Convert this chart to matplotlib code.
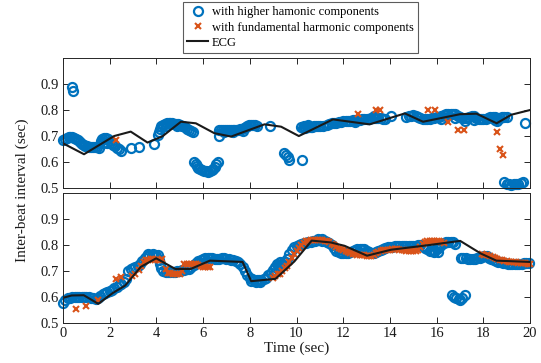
import matplotlib
matplotlib.use("Agg")
import matplotlib.pyplot as plt
from matplotlib.lines import Line2D

plt.rcParams['font.family'] = ['Liberation Serif', 'DejaVu Serif']

# ---------------- top panel ----------------
top_ecg_t = [0.00, 0.90, 2.19, 2.90, 3.62, 4.26, 5.05, 5.69, 6.48, 7.20, 8.63, 9.34, 10.10,
             11.56, 13.13, 14.64, 15.42, 17.00, 17.71, 18.57, 19.20, 20.00]
top_ecg_v = [0.673, 0.631, 0.701, 0.718, 0.676, 0.700, 0.756, 0.750, 0.712, 0.699, 0.746, 0.737, 0.701,
             0.765, 0.746, 0.788, 0.756, 0.785, 0.787, 0.750, 0.783, 0.801]

top_hi_t = [0.00, 0.08, 0.16, 0.24, 0.32, 0.40, 0.48, 0.56, 0.64, 0.72, 0.80, 0.88, 0.96, 1.04, 1.12,
            1.20, 1.28, 1.36, 1.44, 1.55, 1.62, 1.68, 1.70, 1.76, 1.84, 1.90, 1.92, 2.00, 2.08, 2.16,
            2.24, 2.32, 2.40, 2.47, 0.40, 0.43, 2.90, 3.26, 3.90,
            4.05, 4.10, 4.14, 4.20, 4.28, 4.36, 4.40, 4.44, 4.52, 4.60, 4.68, 4.76, 4.84, 4.90, 4.92,
            5.00, 5.08, 5.16, 5.24, 5.32, 5.40, 5.48, 5.55,
            5.62, 5.68, 5.74, 5.80, 5.88, 5.96, 6.04, 6.12, 6.20, 6.28, 6.36, 6.44, 6.50, 6.56, 6.62,
            6.67, 6.70, 6.78, 6.86, 6.90, 6.94, 7.02, 7.10, 7.18, 7.26, 7.30, 7.34, 7.42, 7.50, 7.58,
            7.66, 7.70, 7.74, 7.82, 7.90, 7.98, 8.06, 8.14, 8.22, 8.30, 8.87,
            9.47, 9.55, 9.62, 9.70, 10.25,
            10.20, 10.28, 10.30, 10.36, 10.44, 10.50, 10.52, 10.60, 10.68, 10.76, 10.84, 10.92, 11.00,
            11.13, 11.30, 11.40, 11.50, 11.60, 11.70, 11.80, 11.90, 12.00, 12.10, 12.20, 12.30, 12.40,
            12.50, 12.50, 12.60, 12.70, 12.80, 12.90, 13.00, 13.10, 13.20, 13.30, 13.30, 13.40, 13.50,
            13.60, 13.70, 13.80, 14.06,
            14.70, 14.80, 14.90, 15.00, 15.10, 15.20, 15.30, 15.40, 15.50, 15.60, 15.70, 15.80, 15.90,
            16.00, 16.10, 16.20, 16.20, 16.30, 16.40, 16.50, 16.60, 16.70, 16.80, 16.80, 16.90, 17.00,
            17.10, 17.20, 17.20, 17.30, 17.40, 17.50, 17.60, 17.60, 17.70, 17.80, 17.90, 18.00, 18.10,
            18.20, 18.30, 18.40, 18.50, 18.50, 18.60, 18.60, 18.70, 18.80, 18.90, 19.00, 19.80,
            18.90, 19.00, 19.10, 19.20, 19.30, 19.40, 19.50, 19.60, 19.70]
top_hi_v = [0.686, 0.690, 0.693, 0.696, 0.698, 0.699, 0.695, 0.690, 0.684, 0.677, 0.671, 0.667, 0.664, 0.662, 0.660,
            0.660, 0.659, 0.660, 0.658, 0.654, 0.680, 0.688, 0.676, 0.692, 0.692, 0.676, 0.688, 0.680, 0.674, 0.668,
            0.662, 0.656, 0.650, 0.642, 0.891, 0.876, 0.656, 0.657, 0.669,
            0.705, 0.718, 0.730, 0.738, 0.744, 0.748, 0.740, 0.750, 0.751, 0.750, 0.750, 0.749, 0.748, 0.738, 0.746,
            0.744, 0.741, 0.738, 0.735, 0.730, 0.725, 0.720, 0.717,
            0.600, 0.592, 0.585, 0.580, 0.575, 0.571, 0.567, 0.565, 0.564, 0.566, 0.569, 0.575, 0.583, 0.592, 0.600,
            0.703, 0.724, 0.726, 0.726, 0.718, 0.725, 0.724, 0.723, 0.723, 0.723, 0.717, 0.724, 0.725, 0.726, 0.728,
            0.730, 0.720, 0.733, 0.737, 0.740, 0.742, 0.744, 0.744, 0.743, 0.741, 0.740,
            0.635, 0.628, 0.620, 0.610, 0.609,
            0.737, 0.733, 0.740, 0.733, 0.734, 0.742, 0.735, 0.736, 0.737, 0.738, 0.738, 0.739, 0.740,
            0.740, 0.745, 0.748, 0.750, 0.752, 0.753, 0.755, 0.756, 0.757, 0.758, 0.759, 0.760, 0.761,
            0.762, 0.755, 0.763, 0.764, 0.765, 0.766, 0.767, 0.768, 0.770, 0.771, 0.778, 0.772, 0.772,
            0.770, 0.768, 0.767, 0.778,
            0.773, 0.777, 0.780, 0.782, 0.780, 0.776, 0.772, 0.768, 0.766, 0.766, 0.768, 0.770, 0.772,
            0.774, 0.776, 0.779, 0.768, 0.782, 0.784, 0.786, 0.787, 0.787, 0.784, 0.772, 0.780, 0.775,
            0.771, 0.770, 0.760, 0.772, 0.776, 0.779, 0.777, 0.764, 0.772, 0.768, 0.766, 0.765, 0.768,
            0.772, 0.775, 0.776, 0.774, 0.762, 0.770, 0.758, 0.771, 0.774, 0.776, 0.775, 0.751,
            0.525, 0.518, 0.515, 0.514, 0.515, 0.516, 0.518, 0.521, 0.524]

top_fu_t = [2.26, 12.63, 13.42, 13.58, 15.64, 15.92, 16.50, 16.92, 17.17, 18.57, 18.71, 18.86]
top_fu_v = [0.686, 0.785, 0.803, 0.803, 0.803, 0.803, 0.756, 0.724, 0.724, 0.716, 0.651, 0.630]

# ---------------- bottom panel ----------------
bot_ecg_t = [0.00, 0.37, 0.89, 1.51, 2.14, 2.66, 3.33, 3.99, 4.81, 5.47, 6.29, 7.69, 8.06, 9.10,
             9.91, 10.65, 11.46, 12.06, 13.02, 14.05, 15.60, 17.01, 17.90, 18.56, 20.00]
bot_ecg_v = [0.598, 0.607, 0.608, 0.575, 0.617, 0.645, 0.717, 0.750, 0.709, 0.709, 0.741, 0.736, 0.662, 0.671,
             0.738, 0.818, 0.811, 0.798, 0.760, 0.783, 0.800, 0.817, 0.768, 0.741, 0.736]

bot_hi_t = [0.0, 0.1, 0.2, 0.3, 0.4, 0.5, 0.6, 0.7, 0.8, 0.9, 1.0, 1.1, 1.2, 1.3, 1.4, 1.5, 1.6, 1.7,
            1.8, 1.9, 2.0, 2.1, 2.2, 2.3, 2.4, 2.5, 2.6, 2.7, 2.8, 2.9, 3.0, 3.1, 3.2, 3.3, 3.4, 3.5,
            3.6, 3.7, 3.8, 3.9, 4.0, 4.1, 4.15, 4.2, 4.3, 4.4, 4.5, 4.6, 4.7, 4.8, 4.9, 5.0, 5.1, 5.2,
            5.3, 5.4, 5.5, 5.6, 5.7, 5.8, 5.9, 6.0, 6.1, 6.2, 6.3, 6.4, 6.5, 6.6, 6.7, 6.8, 6.9, 7.0,
            7.1, 7.2, 7.3, 7.4, 7.5, 7.6, 7.7, 7.8, 7.9, 8.0, 8.1, 8.2, 8.3, 8.4, 8.5, 8.6, 8.7, 8.8,
            8.9, 9.0, 9.1, 9.2, 9.3, 9.4, 9.5, 9.6, 9.7, 9.8, 9.9, 10.0, 10.1, 10.2, 10.3, 10.4, 10.5,
            10.6, 10.7, 10.8, 10.9, 11.0, 11.1, 11.2, 11.3, 11.4, 11.5, 11.6, 11.7, 11.8, 11.9, 12.0,
            12.1, 12.2, 12.3, 12.4, 12.5, 12.6, 12.7, 12.8, 12.9, 13.0, 13.1, 13.2, 13.3, 13.4, 13.5,
            13.6, 13.7, 13.8, 13.9, 14.0, 14.1, 14.2, 14.3, 14.4, 14.5, 14.6, 14.7, 14.8, 14.9, 15.0,
            15.1, 15.2, 15.3, 15.4, 15.5, 15.6, 15.7, 15.8, 15.9, 16.0, 16.1, 16.2, 16.3, 16.4, 16.5,
            16.6, 16.7, 16.8,
            17.05, 17.15, 17.25, 17.35, 17.45, 17.55, 17.65, 17.75, 17.85, 17.95, 18.05, 18.15, 18.25,
            18.35, 18.45, 18.55, 18.65, 18.75, 18.85, 18.95, 19.05, 19.15, 19.25, 19.35, 19.45, 19.55,
            19.65, 19.75, 19.85, 19.95,
            3.65, 3.85, 4.05, 8.05, 8.25, 8.45, 9.15, 9.30, 9.45, 15.90, 16.05, 10.9, 11.1,
            16.64, 16.75, 16.85, 16.95, 17.00, 17.10, 17.20]
bot_hi_v = [0.578, 0.590, 0.596, 0.598, 0.600, 0.600, 0.601, 0.601, 0.601, 0.601, 0.601, 0.600, 0.598, 0.596,
            0.595, 0.598, 0.605, 0.612, 0.617, 0.621, 0.625, 0.630, 0.636, 0.641, 0.646, 0.652, 0.660, 0.672,
            0.700, 0.708, 0.712, 0.716, 0.722, 0.730, 0.740, 0.750, 0.758, 0.762, 0.763, 0.762, 0.757, 0.745,
            0.730, 0.712, 0.702, 0.698, 0.697, 0.697, 0.697, 0.698, 0.700, 0.702, 0.704, 0.706, 0.708, 0.710,
            0.715, 0.725, 0.733, 0.740, 0.745, 0.748, 0.750, 0.751, 0.751, 0.750, 0.749, 0.748, 0.749, 0.750,
            0.750, 0.748, 0.746, 0.744, 0.742, 0.740, 0.736, 0.728, 0.716, 0.700, 0.685, 0.675, 0.670, 0.668,
            0.667, 0.667, 0.668, 0.670, 0.675, 0.685, 0.695, 0.705, 0.715, 0.722, 0.726, 0.728, 0.735, 0.748,
            0.765, 0.782, 0.792, 0.798, 0.802, 0.805, 0.808, 0.810, 0.812, 0.814, 0.816, 0.818, 0.820, 0.820,
            0.818, 0.815, 0.812, 0.808, 0.800, 0.790, 0.780, 0.775, 0.772, 0.770, 0.769, 0.770, 0.773, 0.777,
            0.781, 0.784, 0.786, 0.786, 0.784, 0.780, 0.775, 0.770, 0.770, 0.774, 0.779, 0.783, 0.786, 0.789,
            0.792, 0.794, 0.795, 0.796, 0.796, 0.796, 0.796, 0.796, 0.796, 0.796, 0.797, 0.798, 0.799, 0.800,
            0.800, 0.796, 0.790, 0.784, 0.780, 0.780, 0.782, 0.786, 0.795, 0.803, 0.808, 0.811, 0.813, 0.814,
            0.812, 0.806,
            0.752, 0.751, 0.750, 0.749, 0.748, 0.747, 0.748, 0.750, 0.753, 0.756, 0.757, 0.757, 0.753,
            0.748, 0.744, 0.740, 0.737, 0.735, 0.733, 0.731, 0.730, 0.729, 0.728, 0.727, 0.727, 0.728,
            0.730, 0.731, 0.732, 0.733,
            0.766, 0.768, 0.764, 0.664, 0.660, 0.660, 0.730, 0.735, 0.736, 0.774, 0.776, 0.826, 0.824,
            0.609, 0.602, 0.596, 0.592, 0.590, 0.598, 0.608]

bot_fu_t = [0.54, 0.97, 1.52, 2.26, 2.50, 2.95, 3.10, 3.25, 3.35, 3.45, 3.55, 3.65, 3.75, 3.85, 3.95,
            4.05, 4.15, 4.25, 4.40, 4.50, 4.60, 4.70, 4.80, 4.90, 5.00, 5.10, 5.20, 5.30, 5.40, 5.50,
            5.60, 5.70, 5.80, 5.90, 6.00, 6.10, 6.20, 6.30,
            9.00, 9.10, 9.20, 9.30, 9.40, 9.50, 9.60, 9.70, 9.80, 9.90, 10.00,
            10.10, 10.20, 10.30, 10.40, 10.50, 10.60, 10.70, 10.80, 10.90, 11.00, 11.10, 11.20, 11.30,
            11.40, 11.50, 11.60, 11.70, 11.80, 11.90, 12.00, 12.10, 12.20, 12.30, 12.40, 12.50, 12.60,
            12.70, 12.80, 12.90, 13.00, 13.10, 13.20,
            13.30, 13.40, 13.50, 13.60, 13.70, 13.80, 13.90, 14.00, 14.10, 14.20, 14.30, 14.40, 14.50,
            14.60, 14.70, 14.80, 14.90, 15.00, 15.10, 15.20, 15.30, 15.40, 15.50, 15.60, 15.70, 15.80,
            15.90, 16.00, 16.10, 16.20, 16.30,
            17.95, 18.05, 18.15, 18.30, 18.40, 18.50, 18.60, 18.70, 18.80, 18.90, 19.00, 19.10, 19.20,
            19.30, 19.40, 19.50, 19.60, 19.70, 19.80, 19.90, 20.00]
bot_fu_v = [0.554, 0.567, 0.590, 0.672, 0.678, 0.683, 0.690, 0.705, 0.720, 0.735, 0.742, 0.745, 0.746, 0.746, 0.745,
            0.744, 0.745, 0.746, 0.708, 0.695, 0.692, 0.691, 0.690, 0.690, 0.691, 0.700, 0.728, 0.730, 0.730, 0.729,
            0.728, 0.727, 0.726, 0.722, 0.718, 0.716, 0.716, 0.718,
            0.676, 0.682, 0.688, 0.690, 0.700, 0.712, 0.722, 0.735, 0.750, 0.765, 0.778,
            0.788, 0.800, 0.810, 0.815, 0.818, 0.820, 0.821, 0.822, 0.822, 0.821, 0.820, 0.818, 0.816,
            0.812, 0.806, 0.800, 0.795, 0.790, 0.786, 0.782, 0.779, 0.776, 0.772, 0.768, 0.765, 0.763,
            0.762, 0.761, 0.761, 0.760, 0.759, 0.758,
            0.762, 0.770, 0.776, 0.779, 0.781, 0.782, 0.783, 0.783, 0.784, 0.784, 0.784, 0.783, 0.782,
            0.781, 0.780, 0.779, 0.779, 0.778, 0.779, 0.782, 0.795, 0.805, 0.812, 0.815, 0.817, 0.818,
            0.818, 0.817, 0.815, 0.812, 0.808,
            0.765, 0.763, 0.762, 0.758, 0.754, 0.750, 0.747, 0.744, 0.742, 0.740, 0.738, 0.737, 0.736,
            0.735, 0.734, 0.733, 0.732, 0.731, 0.731, 0.730, 0.729]

x_ticks = [0, 2, 4, 6, 8, 10, 12, 14, 16, 18, 20]
y_ticks = [0.5, 0.6, 0.7, 0.8, 0.9]

BLUE = '#0072BD'
RED = '#D95319'
AXC = '#262626'

W, H = 541, 363
fig = plt.figure(figsize=(W / 100, H / 100), dpi=100)
L, R = 63, 530
ax1 = fig.add_axes([L / W, 1 - 188.3 / H, (R - L) / W, 130 / H])
ax2 = fig.add_axes([L / W, 1 - 323.3 / H, (R - L) / W, 130 / H])

circ_kw = dict(linestyle='none', marker='o', markersize=6.5, markerfacecolor='none',
               markeredgecolor=BLUE, markeredgewidth=1.6)
x_kw = dict(linestyle='none', marker='x', markersize=4.5, color=RED, markeredgewidth=1.5)
ecg_kw = dict(color='#1a1a1a', linewidth=1.5)

for ax, (ht, hv, ft, fv, et, ev) in zip(
        (ax1, ax2),
        ((top_hi_t, top_hi_v, top_fu_t, top_fu_v, top_ecg_t, top_ecg_v),
         (bot_hi_t, bot_hi_v, bot_fu_t, bot_fu_v, bot_ecg_t, bot_ecg_v))):
    ax.plot(ht, hv, **circ_kw, clip_on=False)
    ax.plot(ft, fv, **x_kw, clip_on=False)
    ax.plot(et, ev, **ecg_kw)
    ax.set_xlim(0, 20)
    ax.set_ylim(0.5, 1.0)
    ax.set_xticks(x_ticks)
    ax.set_yticks(y_ticks)
    ax.set_yticklabels([f"{v:.1f}" for v in y_ticks])
    ax.tick_params(direction='in', top=True, right=True, length=4, width=0.7,
                   colors=AXC, labelsize=10.5, labelcolor='#1a1a1a', pad=3)
    for s in ax.spines.values():
        s.set_linewidth(0.7)
        s.set_color(AXC)

ax1.set_xticklabels([])
ax2.set_xticklabels([str(v) for v in x_ticks])
ax2.set_xlabel('Time (sec)', fontsize=11, color='#1a1a1a', labelpad=1)
fig.text(22 / W, 1 - 190 / H, 'Inter-beat interval (sec)', rotation=90,
         ha='center', va='center', fontsize=11, color='#1a1a1a')

handles = [Line2D([], [], **circ_kw), Line2D([], [], **x_kw), Line2D([], [], **ecg_kw)]
labels = ['with higher hamonic components', 'with fundamental harmonic components', 'ECG']
leg = fig.legend(handles, labels, loc='upper center', bbox_to_anchor=(300.5 / W, 1 - 2 / H),
                 fontsize=9, frameon=True, fancybox=False, handlelength=1.7,
                 handletextpad=0.3, borderpad=0.35, labelspacing=0.25, borderaxespad=0)
leg.get_frame().set_edgecolor('#333333')
leg.get_frame().set_linewidth(0.8)

fig.savefig('out.png', dpi=100)
